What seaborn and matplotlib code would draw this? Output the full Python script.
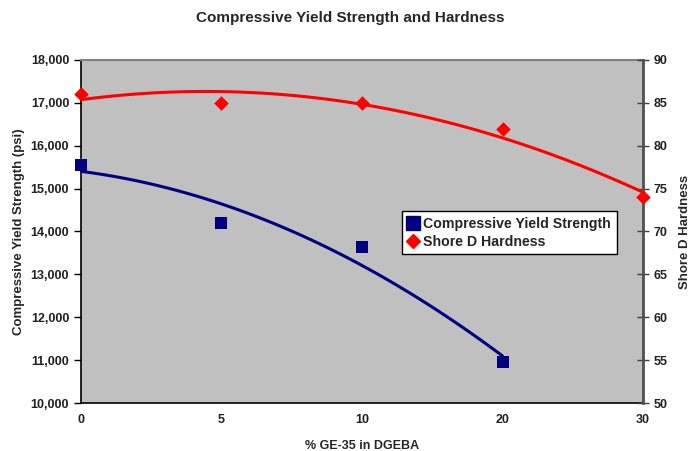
import numpy as np
import pandas as pd
import matplotlib
matplotlib.use("Agg")
import matplotlib.pyplot as plt
import seaborn as sns
from matplotlib.ticker import FuncFormatter
from matplotlib.lines import Line2D

# values
ge_pct = ["0", "5", "10", "20", "30"]
yield_strength = [15550, 14200, 13650, 10950]   # psi, 0..20 %
shore_d = [86, 85, 85, 82, 74]                    # 0..30 %

sns.set_style("white")
plt.rcParams['font.family'] = ['Liberation Sans', 'DejaVu Sans']
plt.rcParams['font.weight'] = 'bold'

cys = pd.DataFrame({"pos": np.arange(len(yield_strength)), "val": yield_strength})
hrd = pd.DataFrame({"pos": np.arange(len(shore_d)), "val": shore_d})

fig = plt.figure(figsize=(7, 4.51), dpi=100)
ax = fig.add_axes([0.1157, 0.1064, 0.8029, 0.7606])
ax.set_facecolor("#C0C0C0")
ax2 = ax.twinx()

navy = "#000080"
red = "#FF0000"

# polynomial (order 2) trendlines, Excel style
sns.regplot(data=cys, x="pos", y="val", order=2, ci=None, scatter=False,
            truncate=True, ax=ax, line_kws=dict(color=navy, lw=2.2))
sns.scatterplot(data=cys, x="pos", y="val", ax=ax, marker="s", s=75,
                color=navy, edgecolor=navy, linewidth=0, zorder=5, clip_on=False)

sns.regplot(data=hrd, x="pos", y="val", order=2, ci=None, scatter=False,
            truncate=True, ax=ax2, line_kws=dict(color=red, lw=2.2))
sns.scatterplot(data=hrd, x="pos", y="val", ax=ax2, marker="D", s=55,
                color=red, edgecolor=red, linewidth=0, zorder=5, clip_on=False)

ax.set_xlim(0, len(ge_pct) - 1)
ax.set_ylim(10000, 18000)
ax2.set_ylim(50, 90)
ax.set_xticks(range(len(ge_pct)))
ax.set_xticklabels(ge_pct)
ax.set_yticks(np.arange(10000, 18001, 1000))
ax.yaxis.set_major_formatter(FuncFormatter(lambda v, p: f"{int(v):,}"))
ax2.set_yticks(np.arange(50, 91, 5))

ax.tick_params(axis="x", length=0, pad=8, labelsize=9)
ax.tick_params(axis="y", direction="out", length=5, width=1, color="black",
               labelsize=9, left=True)
ax2.tick_params(axis="y", direction="inout", length=8, width=1, color="#404040",
                labelsize=9, right=True)
for lab in ax.get_xticklabels() + ax.get_yticklabels() + ax2.get_yticklabels():
    lab.set_fontweight("bold")
    lab.set_color("#202020")

for sp in ["left", "bottom"]:
    ax.spines[sp].set_color("black")
    ax.spines[sp].set_linewidth(1.2)
ax.spines["top"].set_color("#808080")
ax.spines["top"].set_linewidth(1.5)
ax2.spines["right"].set_color("#505050")
ax2.spines["right"].set_linewidth(2)
ax2.spines["top"].set_visible(False)
ax2.spines["left"].set_visible(False)
ax2.spines["bottom"].set_visible(False)

ax.set_xlabel("% GE-35 in DGEBA", fontsize=9, fontweight="bold", labelpad=10)
ax.set_ylabel("Compressive Yield Strength (psi)", fontsize=9.5, fontweight="bold", labelpad=4)
ax2.set_ylabel("Shore D Hardness", fontsize=9.5, fontweight="bold", labelpad=8)
fig.suptitle("Compressive Yield Strength and Hardness", fontsize=11,
             fontweight="bold", y=0.975)

handles = [Line2D([], [], marker="s", color=navy, ls="none", markersize=10),
           Line2D([], [], marker="D", color=red, ls="none", markersize=7.5)]
leg = ax2.legend(handles, ["Compressive Yield Strength", "Shore D Hardness"],
                 loc="upper left", bbox_to_anchor=(0.571, 0.56), frameon=True,
                 fancybox=False, edgecolor="black", framealpha=1,
                 handlelength=0.8, handletextpad=0.3, borderpad=0.4,
                 labelspacing=0.3, borderaxespad=0,
                 prop=dict(weight="bold", size=10.2))
leg.get_frame().set_linewidth(1)

fig.savefig("out.png", dpi=100)
